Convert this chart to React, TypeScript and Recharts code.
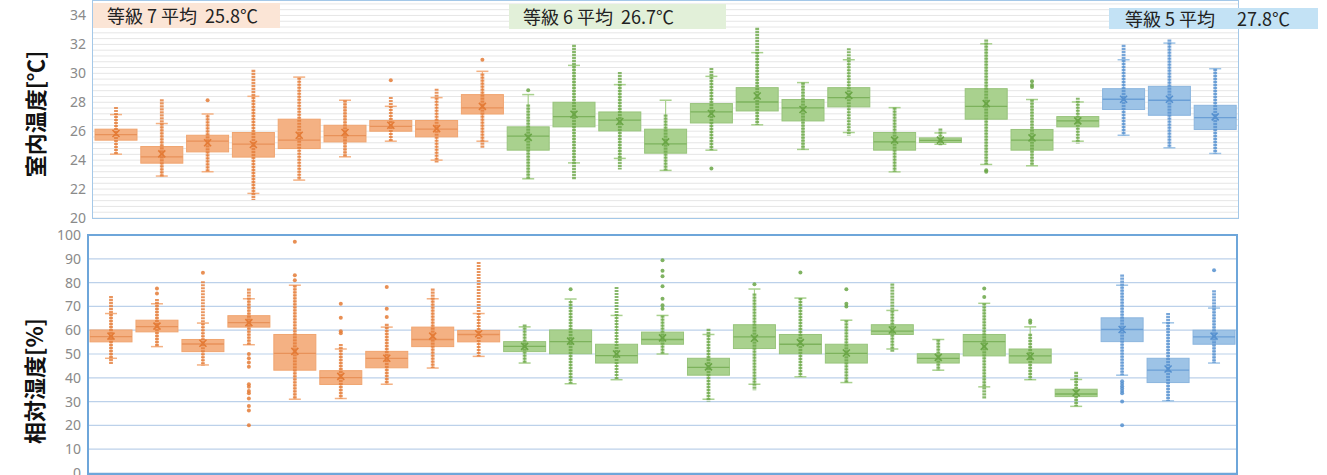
import React from 'react';
import { ComposedChart, Bar, XAxis, YAxis, CartesianGrid } from 'recharts';

// 25 measured dwellings, grouped by insulation grade
const CATS = ['1', '2', '3', '4', '5', '6', '7', '8', '9', '10', '11', '12', '13', '14', '15', '16', '17', '18', '19', '20', '21', '22', '23', '24', '25'];
const GRADES = [7, 7, 7, 7, 7, 7, 7, 7, 7, 6, 6, 6, 6, 6, 6, 6, 6, 6, 6, 6, 6, 6, 5, 5, 5];

// indoor temperature [°C]
const T_Q1 = [25.38, 23.79, 24.57, 24.21, 24.8, 25.26, 26.0, 25.61, 27.19, 24.69, 26.3, 26.02, 24.48, 26.57, 27.4, 26.71, 27.68, 24.69, 25.22, 26.83, 24.69, 26.3, 27.5, 27.1, 26.12];
const T_Q3 = [26.14, 24.94, 25.72, 25.91, 26.83, 26.41, 26.74, 26.74, 28.53, 26.3, 28.0, 27.33, 26.14, 27.91, 29.01, 28.19, 29.01, 25.91, 25.54, 28.94, 26.12, 27.01, 28.94, 29.1, 27.79];
const T_MED = [25.77, 24.23, 25.31, 25.1, 25.38, 25.7, 26.34, 26.14, 27.61, 25.66, 27.01, 26.76, 25.13, 27.33, 28.02, 27.61, 28.32, 25.26, 25.36, 27.72, 25.38, 26.71, 28.21, 28.14, 26.94];
const T_MEAN = [25.84, 24.43, 25.2, 25.08, 25.72, 25.91, 26.41, 26.18, 27.72, 25.57, 27.17, 26.67, 25.26, 27.22, 28.43, 27.5, 28.48, 25.38, 25.38, 27.91, 25.54, 26.71, 28.21, 28.21, 26.99];
const T_WLO = [24.41, 22.9, 23.2, 21.7, 22.62, 24.23, 25.31, 24.0, 25.31, 22.71, 23.81, 24.12, 23.29, 24.69, 26.44, 24.74, 25.91, 23.19, 25.1, 23.7, 23.61, 25.31, 25.72, 24.85, 24.46];
const T_WHI = [27.15, 26.53, 27.19, 28.41, 29.74, 28.14, 27.72, 28.32, 30.14, 28.53, 30.55, 29.22, 28.14, 29.79, 31.43, 29.36, 30.94, 27.63, 25.88, 32.04, 28.19, 28.02, 30.94, 32.09, 30.32];
const T_PLO = [24.4, 22.85, 23.2, 21.24, 22.62, 24.23, 25.31, 23.84, 24.85, 22.71, 22.62, 23.36, 23.29, 24.69, 26.44, 24.74, 25.68, 23.19, 25.03, 23.7, 23.61, 25.15, 25.72, 24.85, 24.46];
const T_PHI = [27.68, 28.2, 27.1, 30.25, 29.7, 28.14, 28.37, 28.94, 29.98, 27.84, 31.98, 30.09, 27.15, 30.37, 33.15, 29.36, 31.74, 27.63, 26.18, 32.34, 28.19, 28.32, 31.98, 32.34, 30.32];
const T_OUT = [[], [], [28.14], [], [], [], [29.52], [], [30.94], [28.83], [], [], [], [23.43], [], [], [], [], [], [23.19, 23.3], [29.45, 29.06, 29.2], [], [], [], []];

// relative humidity [%]
const H_Q1 = [55.1, 59.3, 51.0, 61.3, 43.2, 37.2, 44.2, 53.1, 55.1, 51.0, 50.1, 46.2, 54.1, 41.1, 52.3, 50.1, 46.2, 58.2, 46.2, 49.2, 46.2, 32.1, 55.2, 38.0, 54.1];
const H_Q3 = [60.1, 64.2, 56.1, 66.1, 58.2, 43.0, 51.1, 61.3, 59.9, 55.2, 60.1, 54.1, 59.2, 48.2, 62.3, 58.2, 54.1, 62.3, 50.1, 58.2, 52.1, 35.2, 65.2, 48.2, 60.0];
const H_MED = [57.3, 61.5, 54.2, 63.2, 50.3, 40.1, 48.2, 56.1, 58.2, 53.2, 55.2, 49.3, 56.1, 44.4, 57.2, 54.1, 50.3, 59.6, 48.2, 55.2, 49.2, 33.2, 60.3, 43.2, 57.2];
const H_MEAN = [57.5, 61.7, 54.5, 63.2, 51.1, 40.6, 48.2, 57.5, 58.5, 53.2, 55.4, 50.0, 56.8, 44.6, 56.6, 54.8, 50.4, 60.1, 48.6, 53.2, 49.0, 33.7, 60.3, 43.7, 57.5];
const H_WLO = [48.2, 53.1, 45.4, 53.9, 31.0, 31.3, 37.3, 44.1, 49.0, 46.2, 37.5, 39.2, 50.0, 31.0, 37.3, 40.4, 38.0, 52.1, 43.2, 36.2, 39.2, 28.0, 41.1, 30.3, 46.2];
const H_WHI = [67.0, 71.1, 63.0, 73.2, 78.9, 52.1, 61.3, 73.2, 67.0, 61.4, 73.1, 66.2, 66.2, 58.2, 77.3, 73.5, 64.2, 68.3, 56.1, 71.3, 61.4, 39.3, 78.9, 63.1, 69.3];
const H_PLO = [45.8, 53.1, 45.1, 53.9, 31.0, 31.3, 37.3, 44.1, 49.0, 46.2, 37.5, 39.2, 50.0, 30.0, 34.8, 40.4, 38.0, 50.7, 43.2, 31.0, 39.2, 28.0, 41.1, 30.3, 46.2];
const H_PHI = [74.4, 73.1, 80.6, 77.5, 78.9, 54.2, 62.7, 77.5, 88.7, 62.4, 72.3, 78.2, 66.2, 60.6, 75.4, 73.5, 64.2, 79.6, 56.1, 71.3, 58.5, 42.5, 83.4, 67.2, 76.8];
const H_OUT = [[], [75.4, 77.5], [84.1], [50, 48.2, 46.4, 44.6, 37.3, 36.2, 34.5, 33.5, 31.3, 28.2, 26.3, 20.1], [81, 83.1, 97.2], [58.7, 59.6, 65.2, 71.1], [65.5, 69, 78.2], [], [], [], [77.2], [], [69, 70.5, 73.2, 78.5, 82.7, 85, 89.4], [], [79.3], [84.2], [70, 71.1, 77.2], [], [], [73.9, 77.5], [63.1, 64.1], [], [38.5, 37.5, 36.5, 35.5, 34.5, 33.5, 30.0, 20.1], [], [85.2]];

const T_TICKS = [20, 22, 24, 26, 28, 30, 32, 34];
const T_MINOR = [20, 20.4, 20.8, 21.2, 21.6, 22, 22.4, 22.8, 23.2, 23.6, 24, 24.4, 24.8, 25.2, 25.6, 26, 26.4, 26.8, 27.2, 27.6, 28, 28.4, 28.8, 29.2, 29.6, 30, 30.4, 30.8, 31.2, 31.6, 32, 32.4, 32.8, 33.2, 33.6, 34, 34.4, 34.8];
const H_TICKS = [0, 10, 20, 30, 40, 50, 60, 70, 80, 90, 100];

const GRADE_COLORS: Record<number, { fill: string; edge: string; dot: string; line: string }> = {
  7: { fill: '#f4b183', edge: '#f0a570', dot: '#e47b36', line: '#e8925a' },
  6: { fill: '#a9d18e', edge: '#98c47c', dot: '#6aa646', line: '#7db25c' },
  5: { fill: '#9dc3e6', edge: '#8bb5de', dot: '#5590cf', line: '#6b9fd6' },
};

const buildRows = (q1, q3, med, mean, wlo, whi, plo, phi, out) =>
  CATS.map((cat, i) => ({
    cat,
    grade: GRADES[i],
    q1: q1[i],
    q3: q3[i],
    med: med[i],
    mean: mean[i],
    wlo: wlo[i],
    whi: whi[i],
    plo: plo[i],
    phi: phi[i],
    out: out[i],
  }));

const tempRows = buildRows(T_Q1, T_Q3, T_MED, T_MEAN, T_WLO, T_WHI, T_PLO, T_PHI, T_OUT);
const humRows = buildRows(H_Q1, H_Q3, H_MED, H_MEAN, H_WLO, H_WHI, H_PLO, H_PHI, H_OUT);

// the range bar gives the box; every other mark is placed with the same pixel/unit ratio
const BoxShape = (props: any) => {
  const { x, y, width, height, payload } = props;
  if (!payload || !isFinite(y) || !isFinite(height)) return null;
  const top = Math.min(y, y + height);
  const h = Math.abs(height);
  const k = h / (payload.q3 - payload.q1);
  const py = (v: number) => top + (payload.q3 - v) * k;
  const cx = x + width / 2;
  const c = GRADE_COLORS[payload.grade];
  const my = py(payload.mean);
  return (
    <g>
      <line x1={cx} x2={cx} y1={py(payload.whi)} y2={py(payload.wlo)} stroke={c.fill} strokeWidth={1.2} />
      <line x1={cx - 6} x2={cx + 6} y1={py(payload.whi)} y2={py(payload.whi)} stroke={c.fill} strokeWidth={1.5} />
      <line x1={cx - 6} x2={cx + 6} y1={py(payload.wlo)} y2={py(payload.wlo)} stroke={c.fill} strokeWidth={1.5} />
      <rect x={x} y={top} width={width} height={h} fill={c.fill} stroke={c.edge} strokeWidth={1} />
      <line x1={x} x2={x + width} y1={py(payload.med)} y2={py(payload.med)} stroke={c.line} strokeWidth={1.3} />
      <line
        x1={cx}
        x2={cx}
        y1={py(payload.phi)}
        y2={py(payload.plo)}
        stroke={c.dot}
        strokeWidth={3.8}
        strokeDasharray="2.2 0.8"
        strokeOpacity={0.8}
      />
      {payload.out.map((v: number, j: number) => (
        <circle key={j} cx={cx} cy={py(v)} r={2} fill={c.dot} fillOpacity={0.85} />
      ))}
      <path d={`M${cx - 3.5},${my - 3.5}L${cx + 3.5},${my + 3.5}M${cx - 3.5},${my + 3.5}L${cx + 3.5},${my - 3.5}`} stroke={c.dot} strokeWidth={1.6} />
    </g>
  );
};

const tickStyle = { fill: '#8a8a8a', fontSize: 14, fontFamily: 'Noto Sans, sans-serif' };
const jp = '"Noto Sans CJK JP", sans-serif';

const Note = ({ left, top, width, height, bg, text, pad }) => (
  <div
    style={{
      position: 'absolute',
      left,
      top,
      width,
      height,
      background: bg,
      fontFamily: jp,
      fontSize: 18,
      lineHeight: `${height}px`,
      color: '#222',
      paddingLeft: pad,
      boxSizing: 'border-box',
      whiteSpace: 'pre',
    }}
  >
    {text}
  </div>
);

const AxisTitle = ({ cx, cy, text }) => (
  <div
    style={{
      position: 'absolute',
      left: cx - 100,
      top: cy - 15,
      width: 200,
      height: 30,
      lineHeight: '30px',
      textAlign: 'center',
      transform: 'rotate(-90deg)',
      fontFamily: jp,
      fontSize: 22,
      fontWeight: 700,
      color: '#111',
    }}
  >
    {text}
  </div>
);

export default function App() {
  return (
    <div style={{ position: 'absolute', left: 0, top: 0, width: 1327, height: 475, background: '#fff', overflow: 'hidden' }}>
      <div style={{ position: 'absolute', left: 0, top: 0 }}>
        <ComposedChart width={1327} height={228} data={tempRows} margin={{ top: 1, right: 89, bottom: 10, left: 0 }}>
          <CartesianGrid vertical={false} horizontalValues={T_MINOR} stroke="#e6e6e6" strokeWidth={1} />
          <XAxis dataKey="cat" hide />
          <YAxis
            domain={[20, 35]}
            ticks={T_TICKS}
            interval={0}
            width={93}
            tickLine={false}
            axisLine={false}
            tickSize={0}
            tickMargin={7}
            tick={tickStyle}
          />
          <Bar dataKey={(d) => [d.q1, d.q3]} barSize={42} shape={<BoxShape />} isAnimationActive={false} />
        </ComposedChart>
      </div>
      <div style={{ position: 'absolute', left: 92, top: 0, width: 1147, height: 219, border: '1.5px solid #a4c8e8', boxSizing: 'border-box' }} />

      <div style={{ position: 'absolute', left: 0, top: 220 }}>
        <ComposedChart width={1327} height={255} data={humRows} margin={{ top: 15, right: 90, bottom: 2, left: 0 }}>
          <CartesianGrid vertical={false} stroke="#bcd1ea" strokeWidth={1.2} />
          <XAxis dataKey="cat" hide />
          <YAxis
            domain={[0, 100]}
            ticks={H_TICKS}
            interval={0}
            width={88}
            tickLine={false}
            axisLine={false}
            tickSize={0}
            tickMargin={7}
            tick={tickStyle}
          />
          <Bar dataKey={(d) => [d.q1, d.q3]} barSize={42} shape={<BoxShape />} isAnimationActive={false} />
        </ComposedChart>
      </div>
      <div style={{ position: 'absolute', left: 87, top: 234, width: 1151, height: 241, border: '2px solid #6ea6da', boxSizing: 'border-box' }} />

      <Note left={93} top={3} width={187} height={25} bg="#fbe5d6" text="等級 7 平均  25.8℃" pad={14} />
      <Note left={509} top={4} width={217} height={25} bg="#e2f0d9" text="等級 6 平均  26.7℃" pad={14} />
      <Note left={1109} top={8} width={209} height={21} bg="#c3e2f5" text="等級 5 平均　 27.8℃" pad={16} />

      <AxisTitle cx={34} cy={114} text="室内温度[℃]" />
      <AxisTitle cx={33} cy={381} text="相対湿度[%]" />
    </div>
  );
}
